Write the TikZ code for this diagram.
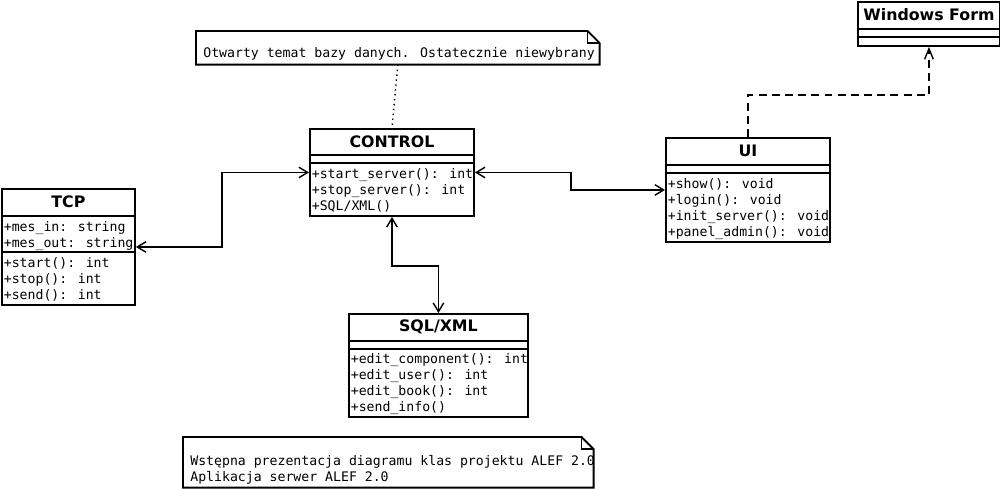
\documentclass[tikz,border=0pt]{standalone}
\usepackage{fontspec}
\setmainfont{DejaVu Sans}
\newfontfamily\umlmono{DejaVu Sans Mono}
\usepackage{tikz}
\usetikzlibrary{arrows.meta, positioning, calc}
\tikzset{
	classbox/.style={draw, fill=white, line width=1.1pt, anchor=north west, inner sep=0pt},
	classname/.style={font=\fontsize{9}{11}\selectfont\bfseries, inner sep=0pt},
	members/.style={font=\umlmono\fontsize{7.5}{9.1}\selectfont, align=left, anchor=north west, inner sep=0pt},
	notebox/.style={anchor=north west, inner sep=0pt},
	notearr/.style={line width=1.1pt, fill=white},
	assocarr/.style={{Straight Barb[length=5pt,width=6pt]}-{Straight Barb[length=5pt,width=6pt]}, line width=0.8pt},
	realarr/.style={-{Straight Barb[length=6pt,width=5pt]}, line width=0.8pt, dash pattern=on 4.5pt off 3pt},
	notelink/.style={dotted, line width=0.8pt},
}
\begin{document}
\begin{tikzpicture}[x=0.02cm, y=-0.02cm]
	\useasboundingbox[fill=white] (0,0) rectangle (1000,488);
	% classes
	\node[classbox, minimum width=2.66cm, minimum height=2.32cm] (tcp) at (1,188) {};
	\node[classbox, minimum width=3.28cm, minimum height=1.74cm] (control) at (309,128) {};
	\node[classbox, minimum width=3.28cm, minimum height=2.08cm] (ui) at (665,137) {};
	\node[classbox, minimum width=2.84cm, minimum height=0.88cm] (winform) at (857,1) {};
	\node[classbox, minimum width=3.58cm, minimum height=2.06cm] (sql) at (348,313) {};
	\foreach \n/\a/\b in {tcp/28/64, control/27/35, ui/28/36, winform/28/36, sql/28/36} {
		\draw[line width=1.1pt] ($(\n.north west)+(0,\a)$) -- ($(\n.north east)+(0,\a)$);
		\draw[line width=1.1pt] ($(\n.north west)+(0,\b)$) -- ($(\n.north east)+(0,\b)$);
	}
	\node[classname] (tcp-name) at ($(tcp.north)+(0,14)$) {TCP};
	\node[classname] (control-name) at ($(control.north)+(0,13.5)$) {CONTROL};
	\node[classname] (ui-name) at ($(ui.north)+(0,14)$) {UI};
	\node[classname] (winform-name) at ($(winform.north)+(0,14)$) {Windows Form};
	\node[classname] (sql-name) at ($(sql.north)+(0,14)$) {SQL/XML};
	\node[members] (tcp-attr) at ($(tcp.north west)+(2.5,33)$) {+mes\_in: string\\+mes\_out: string};
	\node[members] (tcp-ops) at ($(tcp.north west)+(2.5,69)$) {+start(): int\\+stop(): int\\+send(): int};
	\node[members] (control-ops) at ($(control.north west)+(2.5,40)$) {+start\_server(): int\\+stop\_server(): int\\+SQL/XML()};
	\node[members] (ui-ops) at ($(ui.north west)+(2.5,41)$) {+show(): void\\+login(): void\\+init\_server(): void\\+panel\_admin(): void};
	\node[members] (sql-ops) at ($(sql.north west)+(2.5,40)$) {+edit\_component(): int\\+edit\_user(): int\\+edit\_book(): int\\+send\_info()};
	% notes
	\node[notebox, minimum width=8.06cm, minimum height=0.66cm] (note1) at (196,31) {};
	\node[notebox, minimum width=8.2cm, minimum height=1cm] (note2) at (183,437) {};
	\foreach \n in {note1, note2} {
		\draw[notearr] (\n.north west) -- ($(\n.north east)+(-12,0)$) -- ($(\n.north east)+(0,12)$) -- (\n.south east) -- (\n.south west) -- cycle;
		\draw[line width=0.6pt] ($(\n.north east)+(-12,0)$) -- ($(\n.north east)+(-12,12)$) -- ($(\n.north east)+(0,12)$);
	}
	\node[members] (note1-txt) at ($(note1.north west)+(7,16)$) {Otwarty temat bazy danych. Ostatecznie niewybrany};
	\node[members] (note2-txt) at ($(note2.north west)+(7,18)$) {Wstępna prezentacja diagramu klas projektu ALEF 2.0\\Aplikacja serwer ALEF 2.0};
	% connectors
	\draw[notelink] (note1.south) -- (control.north);
	\draw[assocarr] (control.west) -- ++(-87,0) |- (tcp.east);
	\draw[assocarr] (control.east) -- ++(96,0) |- (ui.west);
	\draw[assocarr] (control.south) -- ++(0,49) -| (sql.north);
	\draw[realarr] (ui.north) -- ++(0,-42) -| (winform.south);
\end{tikzpicture}
\end{document}
